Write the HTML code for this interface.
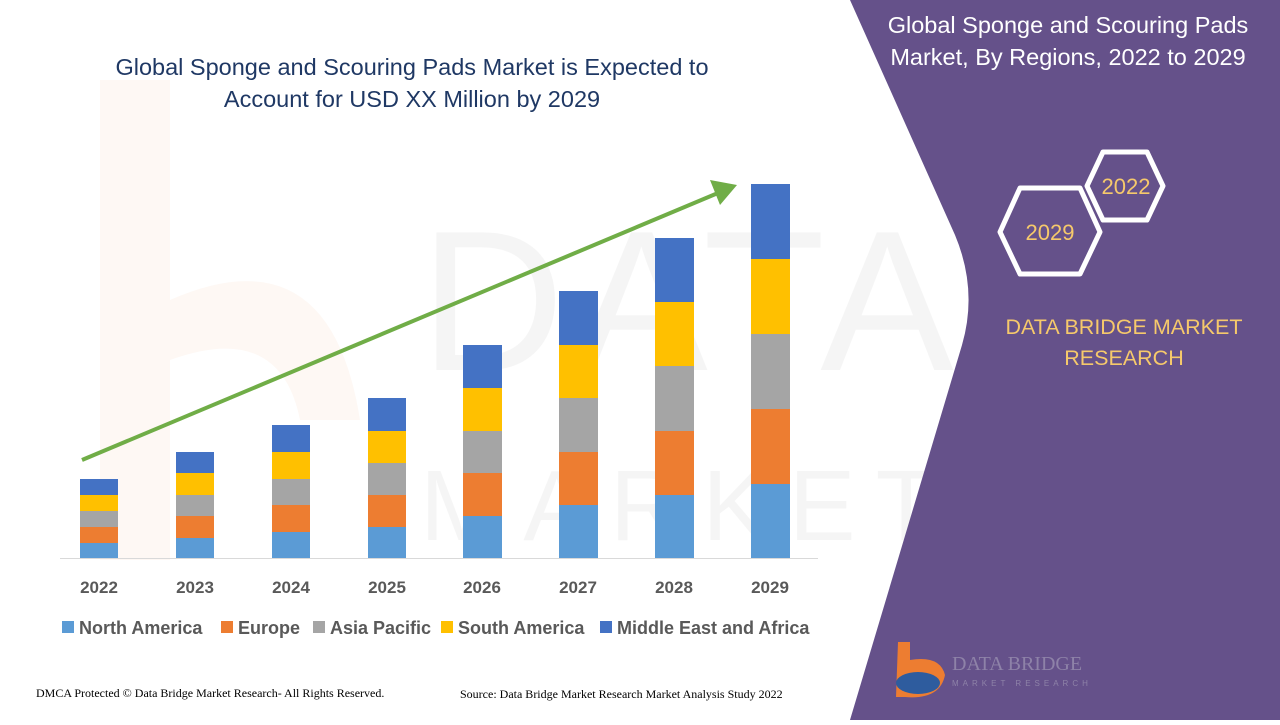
<!DOCTYPE html>
<html><head><meta charset="utf-8"><style>
body{margin:0;width:1280px;height:720px;overflow:hidden;background:#fff;font-family:"Liberation Sans",sans-serif}
</style></head><body>
<svg width="1280" height="720" viewBox="0 0 1280 720" xmlns="http://www.w3.org/2000/svg">
<rect width="1280" height="720" fill="#fff"/>
<g opacity="0.05">
<path d="M100,80 L170,80 L170,300 Q330,230 360,420 L300,420 Q280,320 170,360 L170,560 L100,560Z" fill="#ED7D31"/>
<text x="420" y="370" font-size="200" fill="#555" font-family="Liberation Sans" letter-spacing="10">DATA BR</text>
<text x="420" y="540" font-size="100" fill="#555" font-family="Liberation Sans" letter-spacing="20">MARKET RE</text>
</g>
<path d="M850,0 L955,235 Q978,290 962,345 L850,720 L1280,720 L1280,0Z" fill="#65518A"/>
<text x="412" y="75" text-anchor="middle" font-size="23.5" fill="#1F3864">Global Sponge and Scouring Pads Market is Expected to</text>
<text x="412" y="107" text-anchor="middle" font-size="23.5" fill="#1F3864">Account for USD XX Million by 2029</text>
<line x1="60" y1="558.5" x2="818" y2="558.5" stroke="#D9D9D9" stroke-width="1"/>
<g>
<rect x="80" y="543" width="38" height="15" fill="#5B9BD5"/><rect x="80" y="527" width="38" height="16" fill="#ED7D31"/><rect x="80" y="511" width="38" height="16" fill="#A5A5A5"/><rect x="80" y="495" width="38" height="16" fill="#FFC000"/><rect x="80" y="479" width="38" height="16" fill="#4472C4"/>
<rect x="176" y="538" width="38" height="20" fill="#5B9BD5"/><rect x="176" y="516" width="38" height="22" fill="#ED7D31"/><rect x="176" y="495" width="38" height="21" fill="#A5A5A5"/><rect x="176" y="473" width="38" height="22" fill="#FFC000"/><rect x="176" y="452" width="38" height="21" fill="#4472C4"/>
<rect x="272" y="532" width="38" height="26" fill="#5B9BD5"/><rect x="272" y="505" width="38" height="27" fill="#ED7D31"/><rect x="272" y="479" width="38" height="26" fill="#A5A5A5"/><rect x="272" y="452" width="38" height="27" fill="#FFC000"/><rect x="272" y="425" width="38" height="27" fill="#4472C4"/>
<rect x="368" y="527" width="38" height="31" fill="#5B9BD5"/><rect x="368" y="495" width="38" height="32" fill="#ED7D31"/><rect x="368" y="463" width="38" height="32" fill="#A5A5A5"/><rect x="368" y="431" width="38" height="32" fill="#FFC000"/><rect x="368" y="398" width="38" height="33" fill="#4472C4"/>
<rect x="463" y="516" width="39" height="42" fill="#5B9BD5"/><rect x="463" y="473" width="39" height="43" fill="#ED7D31"/><rect x="463" y="431" width="39" height="42" fill="#A5A5A5"/><rect x="463" y="388" width="39" height="43" fill="#FFC000"/><rect x="463" y="345" width="39" height="43" fill="#4472C4"/>
<rect x="559" y="505" width="39" height="53" fill="#5B9BD5"/><rect x="559" y="452" width="39" height="53" fill="#ED7D31"/><rect x="559" y="398" width="39" height="54" fill="#A5A5A5"/><rect x="559" y="345" width="39" height="53" fill="#FFC000"/><rect x="559" y="291" width="39" height="54" fill="#4472C4"/>
<rect x="655" y="495" width="39" height="63" fill="#5B9BD5"/><rect x="655" y="431" width="39" height="64" fill="#ED7D31"/><rect x="655" y="366" width="39" height="65" fill="#A5A5A5"/><rect x="655" y="302" width="39" height="64" fill="#FFC000"/><rect x="655" y="238" width="39" height="64" fill="#4472C4"/>
<rect x="751" y="484" width="39" height="74" fill="#5B9BD5"/><rect x="751" y="409" width="39" height="75" fill="#ED7D31"/><rect x="751" y="334" width="39" height="75" fill="#A5A5A5"/><rect x="751" y="259" width="39" height="75" fill="#FFC000"/><rect x="751" y="184" width="39" height="75" fill="#4472C4"/>
</g>
<line x1="82" y1="460" x2="718" y2="193" stroke="#70AD47" stroke-width="4"/>
<polygon points="737,185 710,180 720,205" fill="#70AD47"/>
<g font-size="17" font-weight="bold" fill="#595959" text-anchor="middle">
<text x="99" y="593">2022</text><text x="195" y="593">2023</text><text x="291" y="593">2024</text><text x="387" y="593">2025</text><text x="482" y="593">2026</text><text x="578" y="593">2027</text><text x="674" y="593">2028</text><text x="770" y="593">2029</text>
</g>
<g font-size="18" font-weight="bold" fill="#595959">
<rect x="62" y="621" width="12" height="12" fill="#5B9BD5"/><text x="79" y="634">North America</text>
<rect x="221" y="621" width="12" height="12" fill="#ED7D31"/><text x="238" y="634">Europe</text>
<rect x="313" y="621" width="12" height="12" fill="#A5A5A5"/><text x="330" y="634">Asia Pacific</text>
<rect x="441" y="621" width="12" height="12" fill="#FFC000"/><text x="458" y="634">South America</text>
<rect x="600" y="621" width="12" height="12" fill="#4472C4"/><text x="617" y="634">Middle East and Africa</text>
</g>
<text x="36" y="697" font-size="12" font-family="Liberation Serif" fill="#000">DMCA Protected © Data Bridge Market Research- All Rights Reserved.</text>
<text x="460" y="698" font-size="12" font-family="Liberation Serif" fill="#000">Source: Data Bridge Market Research Market Analysis Study 2022</text>
<g fill="#fff" font-size="23.5" text-anchor="middle">
<text x="1068" y="33">Global Sponge and Scouring Pads</text>
<text x="1068" y="65">Market, By Regions, 2022 to 2029</text>
</g>
<polygon points="1103,152 1147,152 1163,186 1147,220 1103,220 1087,186" fill="none" stroke="#fff" stroke-width="5" stroke-linejoin="round"/>
<polygon points="1020,188 1080,188 1100,232 1080,274 1020,274 1000,232" fill="none" stroke="#fff" stroke-width="5" stroke-linejoin="round"/>
<text x="1126" y="194" font-size="22" fill="#F6C96B" text-anchor="middle">2022</text>
<text x="1050" y="240" font-size="22" fill="#F6C96B" text-anchor="middle">2029</text>
<text x="1124" y="334" font-size="21.5" fill="#F6C96B" text-anchor="middle">DATA BRIDGE MARKET</text>
<text x="1124" y="365" font-size="21.5" fill="#F6C96B" text-anchor="middle">RESEARCH</text>
<path d="M898,642 L910,642 L910,660 Q940,655 945,675 Q940,700 905,697 L896,697Z" fill="#ED7D31"/>
<ellipse cx="918" cy="683" rx="22" ry="11" fill="#2E5C9E"/>
<text x="952" y="670" font-size="20" fill="#8E82A8" font-family="Liberation Serif">DATA BRIDGE</text>
<text x="952" y="686" font-size="8" fill="#8E82A8" letter-spacing="4">MARKET RESEARCH</text>
</svg>
</body></html>
